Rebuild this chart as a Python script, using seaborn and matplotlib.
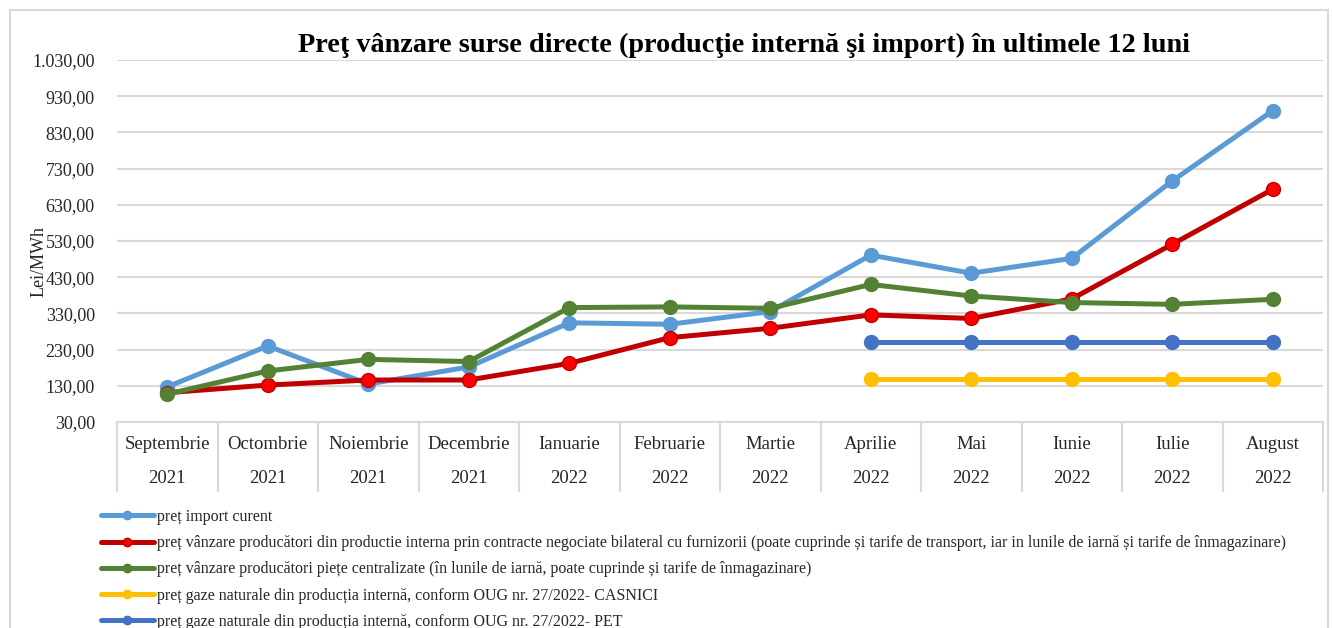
import numpy as np
import pandas as pd
import matplotlib.pyplot as plt
import matplotlib.transforms as mtransforms
from matplotlib.patches import Rectangle
from matplotlib.lines import Line2D
import seaborn as sns

# --- data ---
months = ["Septembrie", "Octombrie", "Noiembrie", "Decembrie", "Ianuarie", "Februarie",
          "Martie", "Aprilie", "Mai", "Iunie", "Iulie", "August"]
years = ["2021", "2021", "2021", "2021", "2022", "2022",
         "2022", "2022", "2022", "2022", "2022", "2022"]

import_curent = [127, 240, 135, 182, 304, 300, 335, 491, 441, 482, 696, 890]
bilateral = [111, 132, 146, 146, 192, 263, 289, 326, 316, 370, 521, 673]
piete_centralizate = [107, 171, 203, 197, 346, 348, 344, 410, 378, 360, 355, 369]
casnici = [np.nan] * 7 + [150, 150, 150, 150, 150]
pet = [np.nan] * 7 + [250, 250, 250, 250, 250]

labels = [
    "preț import curent",
    "preț vânzare producători din productie interna prin contracte negociate bilateral cu furnizorii "
    "(poate cuprinde și tarife de transport, iar in lunile de iarnă și tarife de înmagazinare)",
    "preț vânzare producători piețe centralizate (în lunile de iarnă, poate cuprinde și tarife de înmagazinare)",
    "preț gaze naturale din producția internă, conform OUG nr. 27/2022- CASNICI",
    "preț gaze naturale din producția internă, conform OUG nr. 27/2022- PET",
]
series = [import_curent, bilateral, piete_centralizate, casnici, pet]
line_colors = ["#5B9BD5", "#C00000", "#548235", "#FFC000", "#4472C4"]
face_colors = ["#5B9BD5", "#FF0000", "#548235", "#FFC000", "#4472C4"]

df = pd.DataFrame({"x": np.arange(len(months))})
for lab, vals in zip(labels, series):
    df[lab] = vals

sns.set_style("white")
plt.rcParams['font.family'] = ['Liberation Serif', 'DejaVu Serif']

fig = plt.figure(figsize=(13.33, 6.28), dpi=100)
ax = fig.add_axes([117 / 1333, 1 - 422 / 628, (1323 - 117) / 1333, (422 - 60) / 628])

# outer chart border
fig.patches.append(Rectangle((10 / 1333, -0.02), 1318 / 1333, 1.004,
                             transform=fig.transFigure, fill=False,
                             edgecolor="#D9D9D9", linewidth=1.5))

for lab, lc, fc in zip(labels, line_colors, face_colors):
    sub = df[["x", lab]].dropna()
    sns.lineplot(x=sub["x"], y=sub[lab], ax=ax, color=lc, linewidth=3.6,
                 marker="o", markersize=10, markerfacecolor=fc,
                 markeredgecolor=lc, markeredgewidth=1, legend=False)

ax.set_xlim(-0.5, len(months) - 0.5)
ax.set_ylim(30, 1030)
ax.set_yticks(np.arange(30, 1031, 100))
ax.yaxis.set_major_formatter(plt.FuncFormatter(
    lambda v, p: f"{v:,.2f}".replace(",", "X").replace(".", ",").replace("X", ".")))
ax.tick_params(axis="y", labelsize=13, colors="#262626", length=0, pad=16)
ax.set_xticks([])
ax.set_xlabel("")
ax.set_ylabel("Lei/MWh", fontsize=13, color="#262626")
ax.yaxis.set_label_coords(-0.058, 0.442)
ax.grid(axis="y", color="#D9D9D9", linewidth=1.5)
for s in ["left", "right", "top"]:
    ax.spines[s].set_visible(False)
ax.spines["bottom"].set_color("#D9D9D9")
ax.spines["bottom"].set_linewidth(1.5)

# two-level category axis
trans = mtransforms.blended_transform_factory(ax.transData, ax.transAxes)
for i, (m, yr) in enumerate(zip(months, years)):
    ax.text(i, -0.061, m, transform=trans, ha="center", va="center", fontsize=13.5, color="#262626")
    ax.text(i, -0.155, yr, transform=trans, ha="center", va="center", fontsize=13.5, color="#262626")
for b in np.arange(-0.5, len(months), 1.0):
    ax.plot([b, b], [0, -0.19], transform=trans, color="#D9D9D9", linewidth=1.5, clip_on=False)

ax.set_title("Preţ vânzare surse directe (producţie internă şi import) în ultimele 12 luni",
             fontsize=20.3, fontweight="bold", color="black", x=0.52, y=1.0, pad=6)

handles = [Line2D([], [], color=lc, linewidth=3.6, marker="o", markersize=6,
                  markerfacecolor=fc, markeredgecolor=lc) for lc, fc in zip(line_colors, face_colors)]
fig.legend(handles, labels, loc="upper left", bbox_to_anchor=(93 / 1333, 1 - 501 / 628),
           frameon=False, fontsize=11.5, handlelength=3.3, handletextpad=0.2,
           labelspacing=0.64, borderpad=0, labelcolor="#262626")

fig.savefig("out.png", dpi=100)
